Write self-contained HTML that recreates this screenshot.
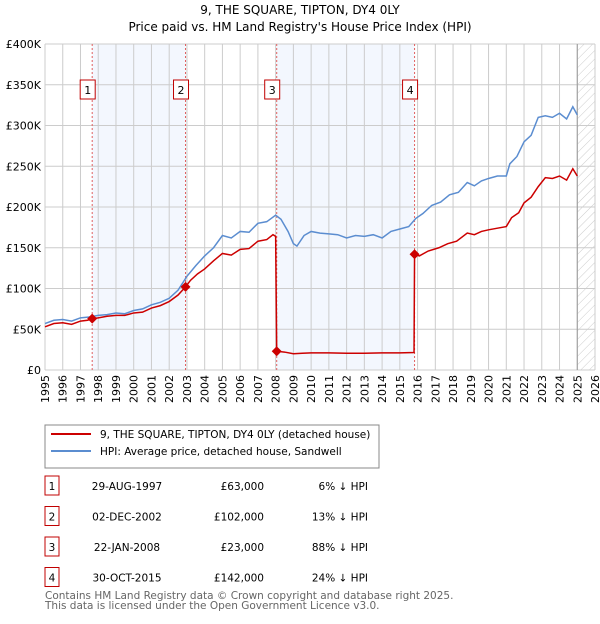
<!DOCTYPE html>
<html><head><meta charset="utf-8">
<style>
body{margin:0;background:#fff;font-family:"DejaVu Sans","Liberation Sans",sans-serif;}
#wrap{position:relative;width:600px;height:620px;}
</style></head>
<body>
<div id="wrap">
<svg id="chart" width="600" height="620" xmlns="http://www.w3.org/2000/svg" font-family="DejaVu Sans, Liberation Sans, sans-serif">
<defs>
<pattern id="hatch" width="6" height="6" patternUnits="userSpaceOnUse" patternTransform="rotate(45)">
<line x1="0" y1="0" x2="0" y2="6" stroke="#ccc" stroke-width="1"/>
</pattern>
</defs>
<text x="300" y="14" text-anchor="middle" font-size="12">9, THE SQUARE, TIPTON, DY4 0LY</text>
<text x="300" y="31" text-anchor="middle" font-size="12">Price paid vs. HM Land Registry's House Price Index (HPI)</text>
<g id="plot"></g>
<g>
<rect x="45" y="425" width="334" height="43" fill="#fff" stroke="#888"/>
<line x1="51" y1="434" x2="91" y2="434" stroke="#cc0000" stroke-width="2"/>
<text x="100" y="438" font-size="10.5">9, THE SQUARE, TIPTON, DY4 0LY (detached house)</text>
<line x1="51" y1="451" x2="91" y2="451" stroke="#5b8dd0" stroke-width="2"/>
<text x="100" y="455" font-size="10.5">HPI: Average price, detached house, Sandwell</text>
</g>
<g id="table" font-size="10.5"></g>
<text x="45" y="599" font-size="10.5" fill="#666">Contains HM Land Registry data © Crown copyright and database right 2025.</text>
<text x="45" y="609" font-size="10.5" fill="#666">This data is licensed under the Open Government Licence v3.0.</text>
</svg>
</div>
<script>
const yTicks=[0,50000,100000,150000,200000,250000,300000,350000,400000];
const yTickLabels=["£0","£50K","£100K","£150K","£200K","£250K","£300K","£350K","£400K"];
const xYears=[1995,1996,1997,1998,1999,2000,2001,2002,2003,2004,2005,2006,2007,2008,2009,2010,2011,2012,2013,2014,2015,2016,2017,2018,2019,2020,2021,2022,2023,2024,2025,2026];
const hpiYears=[1995,1995.5,1996,1996.5,1997,1997.5,1998,1998.5,1999,1999.5,2000,2000.5,2001,2001.5,2002,2002.5,2003,2003.5,2004,2004.5,2005,2005.5,2006,2006.5,2007,2007.5,2008,2008.3,2008.7,2009,2009.2,2009.6,2010,2010.5,2011,2011.5,2012,2012.5,2013,2013.5,2014,2014.5,2015,2015.5,2015.9,2016.3,2016.8,2017.3,2017.8,2018.3,2018.8,2019.2,2019.6,2020,2020.5,2021,2021.2,2021.6,2022,2022.4,2022.8,2023.2,2023.6,2024,2024.4,2024.75,2025];
const hpiValues=[57000,61000,62000,60000,64000,65000,67000,68000,70000,69000,73000,75000,80000,83000,88000,98000,115000,128000,140000,150000,165000,162000,170000,169000,180000,182000,190000,185000,170000,155000,152000,165000,170000,168000,167000,166000,162000,165000,164000,166000,162000,170000,173000,176000,186000,192000,202000,206000,215000,218000,230000,226000,232000,235000,238000,238000,253000,262000,280000,288000,310000,312000,310000,315000,308000,323000,313000];
const priceYears=[1995,1995.5,1996,1996.5,1997,1997.4,1997.66,1998,1998.5,1999,1999.5,2000,2000.5,2001,2001.5,2002,2002.5,2002.92,2003.2,2003.6,2004,2004.5,2005,2005.5,2006,2006.5,2007,2007.5,2007.85,2008.0,2008.06,2008.5,2009,2009.5,2010,2011,2012,2013,2014,2015,2015.8,2015.83,2016.1,2016.6,2017.2,2017.7,2018.2,2018.8,2019.2,2019.6,2020,2020.5,2021,2021.3,2021.7,2022,2022.4,2022.8,2023.2,2023.6,2024,2024.4,2024.75,2025];
const priceValues=[53000,57000,58000,56000,60000,61000,63000,64000,66000,67000,67000,70000,71000,76000,79000,84000,92000,102000,110000,118000,124000,134000,143000,141000,148000,149000,158000,160000,166000,164000,23000,22000,20000,20500,21000,21000,20500,20500,21000,21000,21500,142000,140000,146000,150000,155000,158000,168000,166000,170000,172000,174000,176000,187000,193000,205000,212000,225000,236000,235000,238000,233000,247000,238000];
const saleYears=[1997.66,2002.92,2008.06,2015.83];
const saleValues=[63000,102000,23000,142000];
const saleLabels=["1","2","3","4"];
const saleDates=["29-AUG-1997","02-DEC-2002","22-JAN-2008","30-OCT-2015"];
const salePrices=["£63,000","£102,000","£23,000","£142,000"];
const saleDiffs=["6% ↓ HPI","13% ↓ HPI","88% ↓ HPI","24% ↓ HPI"];

const NS="http://www.w3.org/2000/svg";
const X0=45,X1=595,Y0=370,Y1=44;
const xs=y=>X0+(y-1995)/(2026-1995)*(X1-X0);
const ys=v=>Y0-v/400000*(Y0-Y1);
const plot=document.getElementById('plot');
function mk(tag,attrs,parent){const e=document.createElementNS(NS,tag);for(const k in attrs)e.setAttribute(k,attrs[k]);(parent||plot).appendChild(e);return e;}

for(let i=0;i<4;i+=2){
  const r=mk('rect',{x:xs(saleYears[i]),y:Y1,width:xs(saleYears[i+1])-xs(saleYears[i]),height:Y0-Y1,fill:'#eef3fd',opacity:0.7});
  
  
}
const h=mk('rect',{x:xs(2025.0),y:Y1,width:X1-xs(2025.0),height:Y0-Y1,fill:'url(#hatch)'});


xYears.forEach(yr=>{
  const l=mk('line',{x1:xs(yr),x2:xs(yr),y1:Y1,y2:Y0,stroke:'#ccc','stroke-width':1});
  
  
  const t=mk('text',{x:0,y:0,'font-size':11,'text-anchor':'end',transform:`translate(${xs(yr)+4},375) rotate(-90)`});
  t.textContent=yr;
  
  
});
yTicks.forEach((v,i)=>{
  const l=mk('line',{x1:X0,x2:X1,y1:ys(v),y2:ys(v),stroke:'#ccc','stroke-width':1});
  
  
  const t=mk('text',{x:X0-4,y:ys(v)+4,'font-size':11,'text-anchor':'end'});
  t.textContent=yTickLabels[i];
  
  
});
const nowl=mk('line',{x1:xs(2025.0),x2:xs(2025.0),y1:Y1,y2:Y0,stroke:'#999','stroke-width':1});


saleYears.forEach((yr,i)=>{
  const l=mk('line',{x1:xs(yr),x2:xs(yr),y1:Y1,y2:Y0,stroke:'#e06060','stroke-width':1,'stroke-dasharray':'2,2'});
  
  
  const b=mk('rect',{x:xs(yr)-12,y:80,width:15,height:19,fill:'#fff',stroke:'#c00000'});
  
  
  const t=mk('text',{x:xs(yr)-4.5,y:94,'font-size':11,'text-anchor':'middle'});
  t.textContent=saleLabels[i];
  
  
});
const hp=mk('polyline',{points:hpiYears.map((y,i)=>xs(y)+','+ys(hpiValues[i])).join(' '),fill:'none',stroke:'#5b8dd0','stroke-width':1.5});


const pp=mk('polyline',{points:priceYears.map((y,i)=>xs(y)+','+ys(priceValues[i])).join(' '),fill:'none',stroke:'#cc0000','stroke-width':1.5});


saleYears.forEach((yr,i)=>{
  const cx=xs(yr),cy=ys(saleValues[i]);
  const d=mk('polygon',{points:`${cx},${cy-5} ${cx+5},${cy} ${cx},${cy+5} ${cx-5},${cy}`,fill:'#cc0000'});
  
  
});
const tb=document.getElementById('table');
saleLabels.forEach((s,i)=>{
  const y=490+i*30.5;
  const b=mk('rect',{x:45,y:y-14,width:14,height:19,fill:'#fff',stroke:'#c00000'},tb);
  
  
  const cells=[[52,s,'middle'],[127,saleDates[i],'middle'],[264,salePrices[i],'end'],[368,saleDiffs[i],'end']];
  cells.forEach((c,j)=>{
    const t=mk('text',{x:c[0],y:y,'text-anchor':c[2]},tb);
    t.textContent=c[1];
    
    
  });
});
</script>
</body></html>
